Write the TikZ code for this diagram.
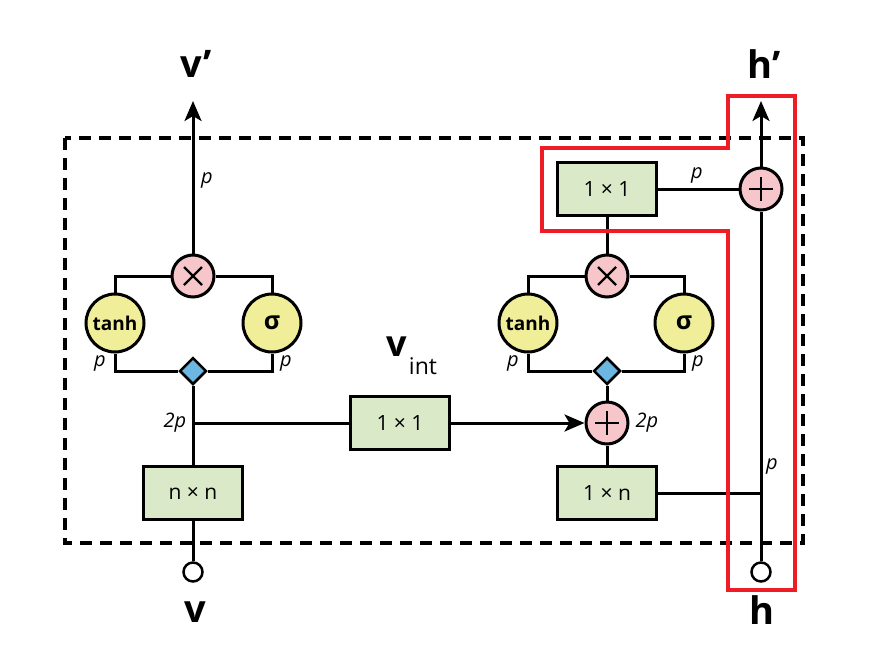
\documentclass[tikz,border=0pt]{standalone}
\usepackage{fontspec}
\setmainfont{Open Sans}
\usetikzlibrary{shapes.geometric,arrows.meta,calc}
\definecolor{boxgreen}{HTML}{DAEAC8}
\definecolor{gateyellow}{HTML}{F0EE98}
\definecolor{oppink}{HTML}{F7C6CB}
\definecolor{splitblue}{HTML}{6CB6E2}
\definecolor{hlred}{HTML}{EE1D25}
\begin{document}
\begin{tikzpicture}[x=1pt,y=-1pt,
 wire/.style={line width=3pt},
 convbox/.style={draw,line width=3pt,fill=boxgreen,minimum width=99pt,minimum height=53pt,inner sep=0pt,font=\fontsize{21}{23}\selectfont},
 gate/.style={circle,draw,line width=3pt,fill=gateyellow,minimum size=58pt,inner sep=0pt,font=\bfseries\fontsize{19}{21}\selectfont},
 sgate/.style={gate,font=\bfseries\fontsize{25}{27}\selectfont},
 opnode/.style={circle,draw,line width=3pt,fill=oppink,minimum size=42pt,inner sep=0pt},
 split/.style={diamond,draw,line width=2.5pt,fill=splitblue,minimum width=27pt,minimum height=27pt,inner sep=0pt},
 port/.style={circle,draw,line width=2.5pt,fill=white,minimum size=19pt,inner sep=0pt},
 dimlabel/.style={font=\itshape\fontsize{20}{22}\selectfont,inner sep=0pt},
 biglabel/.style={font=\bfseries\fontsize{38}{40}\selectfont,inner sep=0pt},
 arrowtip/.style={-{Stealth[length=20pt,width=17pt,inset=5pt]}},
 opmark/.style={line width=2.3pt},
 frame/.style={line width=3.5pt,dash pattern=on 12pt off 8pt},
 highlight/.style={hlred,line width=4pt},
]
\useasboundingbox (0,0) rectangle (875,656);
\draw[frame] (65,138) rectangle (803,543);

% ---- left column
\node[port] (vin) at (193,572) {};
\node[convbox] (nn) at (193,493) {n × n};
\coordinate (j1) at (193,423);
\node[split] (d1) at (193,371) {};
\node[gate] (t1) at (115,323) {tanh};
\node[sgate] (s1) at (272,323) {σ};
\node[opnode] (m1) at (193,276) {};
\coordinate (vout) at (193,101);
\node[biglabel] (vprime) at (196,64) {v’};
\node[biglabel] (vlab) at (195,612) {v};

\draw[wire] (vin) -- (nn);
\draw[wire] (nn) -- (d1);
\draw[wire] (d1) -| (t1);
\draw[wire] (d1) -| (s1);
\draw[wire] (t1) |- (m1);
\draw[wire] (s1) |- (m1);
\draw[wire,arrowtip] (m1) -- (vout);
\draw[opmark] ($(m1.center)+(-9,-9)$) -- ($(m1.center)+(9,9)$);
\draw[opmark] ($(m1.center)+(-9,9)$) -- ($(m1.center)+(9,-9)$);

\node[dimlabel] (lp1) at (207,180) {p};
\node[dimlabel] (lp2) at (100,363) {p};
\node[dimlabel] (lp3) at (286,363) {p};
\node[dimlabel] (l2p1) at (175,423) {2p};

% ---- middle
\node[convbox] (c11) at (400,423) {1 × 1};
\node[biglabel,font=\bfseries\fontsize{36}{38}\selectfont] (vint) at (397,347) {v};
\node[font=\fontsize{23}{25}\selectfont,inner sep=0pt] (vintsub) at (423,366) {int};

% ---- right column
\node[opnode] (a2) at (607,423) {};
\node[convbox] (c1n) at (607,493) {1 × n};
\node[split] (d2) at (607,371) {};
\node[gate] (t2) at (528,323) {tanh};
\node[sgate] (s2) at (684,323) {σ};
\node[opnode] (m2) at (607,276) {};
\node[convbox] (c11b) at (607,189) {1 × 1};
\node[opnode] (a3) at (761,189) {};
\node[port] (hin) at (761,572) {};
\coordinate (hj) at (761,493);
\coordinate (hout) at (761,101);
\node[biglabel] (hprime) at (764,64) {h’};
\node[biglabel] (hlab) at (762,610) {h};

\draw[wire] (j1) -- (c11);
\draw[wire,arrowtip] (c11) -- (a2);
\draw[wire] (c1n) -- (a2);
\draw[wire] (a2) -- (d2);
\draw[wire] (d2) -| (t2);
\draw[wire] (d2) -| (s2);
\draw[wire] (t2) |- (m2);
\draw[wire] (s2) |- (m2);
\draw[wire] (m2) -- (c11b);
\draw[wire] (c11b) -- (a3);
\draw[wire] (hin) -- (a3);
\draw[wire] (c1n) -- (hj);
\draw[wire,arrowtip] (a3) -- (hout);

\draw[opmark] ($(m2.center)+(-9,-9)$) -- ($(m2.center)+(9,9)$);
\draw[opmark] ($(m2.center)+(-9,9)$) -- ($(m2.center)+(9,-9)$);
\foreach \n in {a2,a3} {
  \draw[opmark] ($(\n.center)+(-12,0)$) -- ($(\n.center)+(12,0)$);
  \draw[opmark] ($(\n.center)+(0,-12)$) -- ($(\n.center)+(0,12)$);
}

\node[dimlabel] (lp4) at (513,363) {p};
\node[dimlabel] (lp5) at (698,363) {p};
\node[dimlabel] (l2p2) at (647,423) {2p};
\node[dimlabel] (lp6) at (697,175) {p};
\node[dimlabel] (lp7) at (772,466) {p};

% ---- highlight
\draw[highlight] (728,96) -- (795,96) -- (795,590) -- (728,590) -- (728,231) -- (542,231) -- (542,148) -- (728,148) -- cycle;
\end{tikzpicture}
\end{document}
